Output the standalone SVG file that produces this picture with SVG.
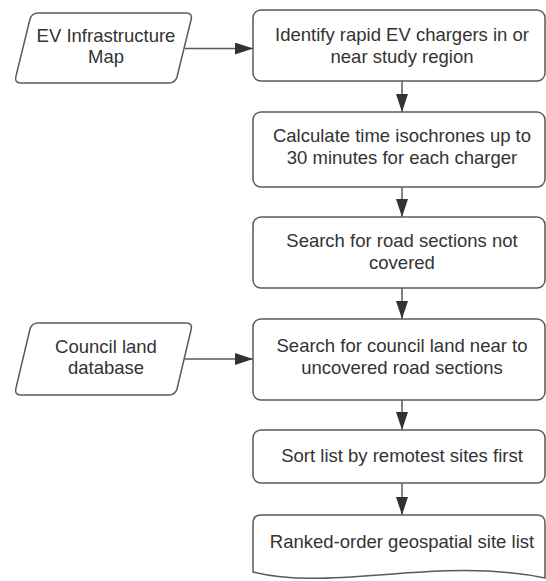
<svg xmlns="http://www.w3.org/2000/svg" width="546" height="581" viewBox="0 0 546 581">
<defs>
<style>
.shape{fill:#ffffff;stroke:#5a5a5a;stroke-width:1.5}
.conn{fill:none;stroke:#5a5a5a;stroke-width:1.5}
text{font-family:"Liberation Sans",Arial,sans-serif;font-size:18.5px;fill:#333333;text-anchor:middle}
</style>
<marker id="ah" viewBox="0 0 18 12" refX="18" refY="6" markerWidth="18" markerHeight="12" markerUnits="userSpaceOnUse" orient="auto">
<path d="M0,0 L18,6 L0,12 Z" fill="#333333"/>
</marker>
</defs>
<rect width="546" height="581" fill="#ffffff"/>
<g id="connectors">
<line class="conn" x1="185" y1="48.5" x2="253" y2="48.5" marker-end="url(#ah)"/>
<line class="conn" x1="185" y1="359" x2="253" y2="359" marker-end="url(#ah)"/>
<line class="conn" x1="402" y1="81" x2="402" y2="112" marker-end="url(#ah)"/>
<line class="conn" x1="402" y1="187" x2="402" y2="217" marker-end="url(#ah)"/>
<line class="conn" x1="402" y1="288" x2="402" y2="319" marker-end="url(#ah)"/>
<line class="conn" x1="402" y1="400" x2="402" y2="430" marker-end="url(#ah)"/>
<line class="conn" x1="402" y1="483" x2="402" y2="515" marker-end="url(#ah)"/>
</g>
<g id="ev-map">
<path class="shape" d="M38,13 L186,13 Q193,13 191,20 L177,77 Q175,83 169,83 L21,83 Q14,83 16,76 L30,19 Q32,13 38,13 Z"/>
<text x="106" y="41.5">EV Infrastructure</text>
<text x="106" y="63">Map</text>
</g>
<g id="council-db">
<path class="shape" d="M38,323 L186,323 Q193,323 191,330 L177,389 Q175,395 169,395 L21,395 Q14,395 16,388 L30,329 Q32,323 38,323 Z"/>
<text x="106" y="353">Council land</text>
<text x="106" y="374">database</text>
</g>
<g id="identify">
<rect class="shape" x="253" y="10" width="292" height="71" rx="8"/>
<text x="402" y="40.5">Identify rapid EV chargers in or</text>
<text x="402" y="62.5">near study region</text>
</g>
<g id="isochrones">
<rect class="shape" x="253" y="112" width="292" height="75" rx="8"/>
<text x="402" y="142">Calculate time isochrones up to</text>
<text x="402" y="164">30 minutes for each charger</text>
</g>
<g id="road-sections">
<rect class="shape" x="253" y="217" width="292" height="71" rx="8"/>
<text x="402" y="247">Search for road sections not</text>
<text x="402" y="269">covered</text>
</g>
<g id="council-land">
<rect class="shape" x="253" y="319" width="292" height="81" rx="8"/>
<text x="402" y="352">Search for council land near to</text>
<text x="402" y="374">uncovered road sections</text>
</g>
<g id="sort">
<rect class="shape" x="253" y="430" width="292" height="53" rx="8"/>
<text x="402" y="462">Sort list by remotest sites first</text>
</g>
<g id="output">
<path class="shape" d="M261,515 L537,515 Q545,515 545,523 L545,578 C440,556 330,592 253,572 L253,523 Q253,515 261,515 Z"/>
<text x="402" y="548">Ranked-order geospatial site list</text>
</g>
</svg>
